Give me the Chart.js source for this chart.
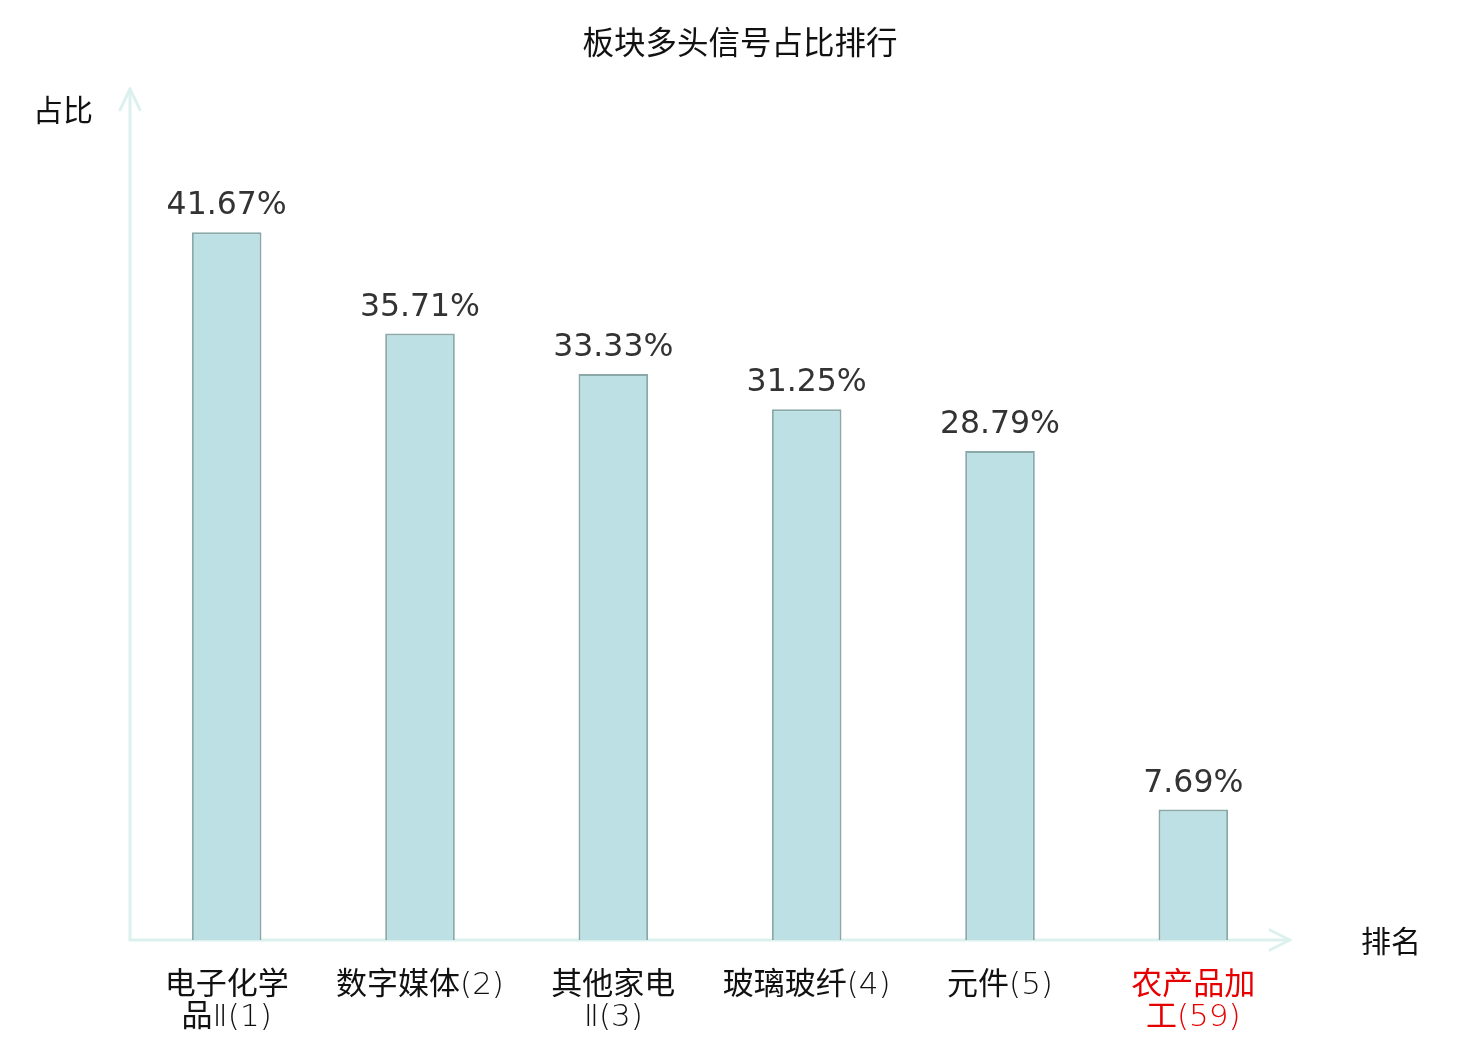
<!DOCTYPE html>
<html>
<head>
<meta charset="utf-8">
<script src="https://cdn.jsdelivr.net/npm/chart.js@4.4.1/dist/chart.umd.min.js"></script>
<style>
html,body{margin:0;padding:0;background:#fff;}
#wrap{width:1480px;height:1040px;position:relative;}
</style>
</head>
<body>
<div id="wrap"><canvas id="c" width="1480" height="1040"></canvas></div>
<script>
const categories = [['电子化学','品Ⅱ(1)'], ['数字媒体(2)'], ['其他家电','Ⅱ(3)'], ['玻璃玻纤(4)'], ['元件(5)'], ['农产品加','工(59)']];
const values = [41.67, 35.71, 33.33, 31.25, 28.79, 7.69];
const valueLabels = ['41.67%', '35.71%', '33.33%', '31.25%', '28.79%', '7.69%'];
const highlighted = [false, false, false, false, false, true];
const chartTitle = '板块多头信号占比排行';
const yAxisName = '占比';
const xAxisName = '排名';

const CJK = '"Noto Sans CJK SC", "Noto Sans", sans-serif';
const TICKFONT = '"DejaVu Sans Light", "DejaVu Sans ExtraLight", "Noto Sans CJK SC", sans-serif';
const axisColor = '#dcf1ee';

const decor = {
  id: 'decor',
  beforeDatasetsDraw(chart) {
    const {ctx, chartArea: a} = chart;
    ctx.save();
    ctx.strokeStyle = axisColor;
    ctx.lineWidth = 3;
    ctx.lineCap = 'round';
    ctx.lineJoin = 'round';
    ctx.beginPath();
    ctx.moveTo(a.left, a.bottom);
    ctx.lineTo(a.left, a.top - 2);
    ctx.stroke();
    ctx.beginPath();
    ctx.moveTo(a.left - 10, a.top + 19);
    ctx.lineTo(a.left, a.top - 2);
    ctx.lineTo(a.left + 10, a.top + 19);
    ctx.stroke();
    ctx.beginPath();
    ctx.moveTo(a.left, a.bottom);
    ctx.lineTo(a.right, a.bottom);
    ctx.stroke();
    ctx.beginPath();
    ctx.moveTo(a.right - 20, a.bottom - 10);
    ctx.lineTo(a.right, a.bottom);
    ctx.lineTo(a.right - 20, a.bottom + 10);
    ctx.stroke();
    ctx.restore();
  },
  afterDatasetsDraw(chart) {
    const {ctx, chartArea: a} = chart;
    ctx.save();
    ctx.fillStyle = '#111';
    ctx.font = '30px ' + CJK;
    ctx.textAlign = 'center';
    ctx.textBaseline = 'middle';
    ctx.fillText(yAxisName, 63, a.top + 19);
    ctx.fillText(xAxisName, a.right + 101, a.bottom + 1);
    const meta = chart.getDatasetMeta(0);
    ctx.font = '31.5px "DejaVu Sans", sans-serif';
    ctx.fillStyle = '#333';
    meta.data.forEach((bar, i) => {
      ctx.fillText(valueLabels[i], bar.x, bar.y - 26);
    });
    ctx.restore();
  }
};

new Chart(document.getElementById('c'), {
  type: 'bar',
  data: {
    labels: categories,
    datasets: [{
      data: values,
      backgroundColor: '#bce0e3',
      borderColor: '#8aa8a8',
      borderWidth: 2,
      barPercentage: 0.36,
      categoryPercentage: 1
    }]
  },
  options: {
    responsive: false,
    animation: false,
    devicePixelRatio: 1,
    layout: { padding: 0 },
    plugins: {
      legend: { display: false },
      tooltip: { enabled: false },
      title: {
        display: true,
        text: chartTitle,
        color: '#111',
        font: { family: CJK, size: 31.5, weight: 'normal', lineHeight: 1.2 },
        padding: { top: 23, bottom: 30 }
      }
    },
    scales: {
      y: {
        display: true, min: 0, max: 50,
        grid: { display: false, drawTicks: false },
        border: { display: false },
        ticks: { display: false },
        afterFit(scale) { scale.width = 130; }
      },
      y2: {
        display: true, position: 'right', min: 0, max: 50,
        grid: { display: false, drawTicks: false },
        border: { display: false },
        ticks: { display: false },
        afterFit(scale) { scale.width = 190; }
      },
      x: {
        grid: { display: false, drawTicks: false },
        border: { display: false },
        ticks: {
          autoSkip: false,
          maxRotation: 0,
          padding: 30,
          color: (c) => highlighted[c.index] ? '#e60000' : '#111',
          font: { family: TICKFONT, size: 31, weight: 'normal', lineHeight: 1.03 }
        },
        afterFit(scale) { scale.height = 100; }
      }
    }
  },
  plugins: [decor]
});
</script>
</body>
</html>
